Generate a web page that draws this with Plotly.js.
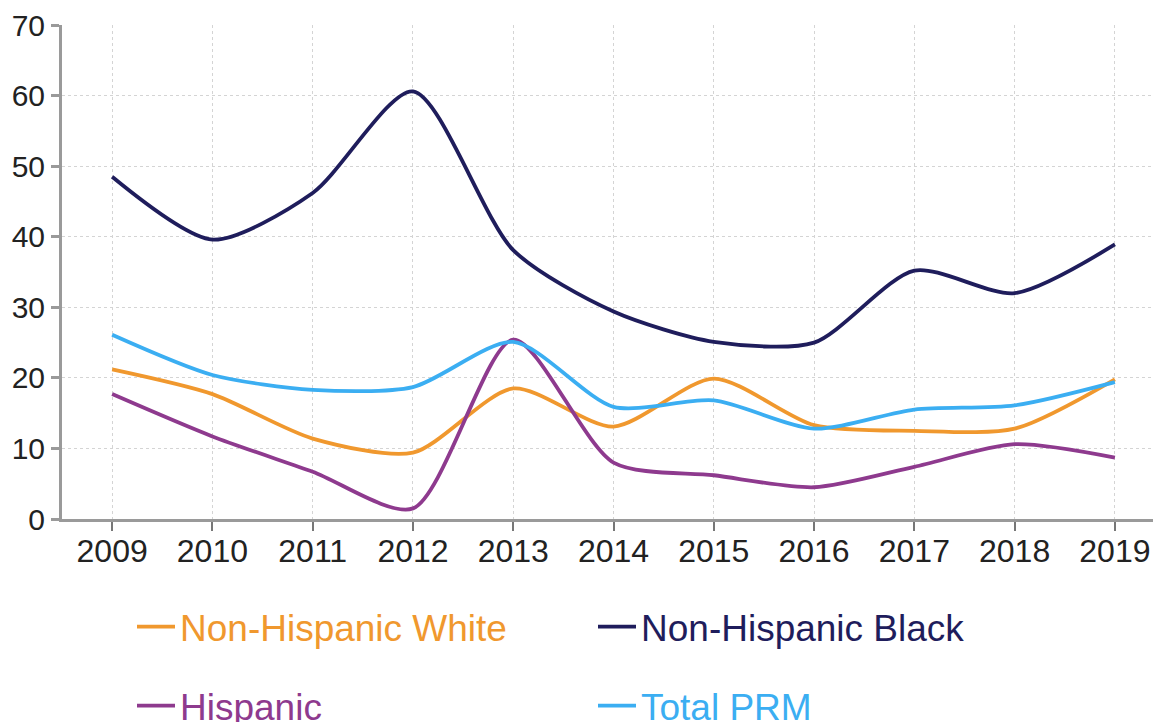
<!DOCTYPE html>
<html>
<head>
<meta charset="utf-8">
<script src="https://cdn.plot.ly/plotly-3.0.1.min.js"></script>
<style>html,body{margin:0;padding:0;background:#fff;}#chart{width:1153px;height:722px;}</style>
</head>
<body>
<div id="chart"></div>
<script>
const years = [2009, 2010, 2011, 2012, 2013, 2014, 2015, 2016, 2017, 2018, 2019];
const nhWhite = [21.2, 17.7, 11.4, 9.4, 18.5, 13.1, 19.9, 13.3, 12.5, 12.8, 19.8];
const nhBlack = [48.5, 39.6, 46.2, 60.6, 38.1, 29.4, 25.1, 25.0, 35.2, 32.0, 38.9];
const hispanic = [17.7, 11.7, 6.7, 1.5, 25.4, 8.0, 6.2, 4.5, 7.4, 10.6, 8.7];
const totalPRM = [26.1, 20.4, 18.3, 18.7, 25.1, 15.9, 16.8, 12.8, 15.5, 16.1, 19.4];
const yTicks = [0, 10, 20, 30, 40, 50, 60, 70];

const colors = {white: '#F0982E', black: '#1F1D5C', hisp: '#8E3A8E', total: '#3BAEF2'};

function tr(y, name, color, legend, w) {
  return {
    x: years, y: y, type: 'scatter', mode: 'lines',
    name: '<span style="color:' + color + '">' + name + '</span>',
    line: {color: color, width: w, shape: 'spline', smoothing: 0.75},
    legend: legend, hoverinfo: 'x+y'
  };
}

const data = [
  tr(nhWhite, 'Non-Hispanic White', colors.white, 'legend', 3.8),
  tr(nhBlack, 'Non-Hispanic Black', colors.black, 'legend2', 3.8),
  tr(hispanic, 'Hispanic', colors.hisp, 'legend3', 3.8),
  tr(totalPRM, 'Total PRM', colors.total, 'legend4', 3.8)
];

const W = 1153, H = 722;
const legFont = {family: 'Liberation Sans, Arial, sans-serif', size: 37};
function leg(px, py) {
  return {x: px / W, y: (H - py) / H, xref: 'container', yref: 'container',
          xanchor: 'left', yanchor: 'middle', orientation: 'h', itemwidth: 38,
          font: legFont, bgcolor: 'rgba(0,0,0,0)', borderwidth: 0};
}

const layout = {
  width: W, height: H,
  margin: {l: 62, r: 0, t: 25, b: 203},
  paper_bgcolor: '#fff', plot_bgcolor: '#fff',
  font: {family: 'Liberation Sans, Arial, sans-serif', color: '#222'},
  showlegend: true,
  xaxis: {
    range: [2008.5, 2019.38], tickvals: years, ticktext: years.map(String),
    showgrid: true, gridcolor: '#d4d4d4', griddash: 'dot', gridwidth: 1,
    showline: true, linecolor: '#9a9a9a', linewidth: 3,
    ticks: 'outside', ticklen: 9, tickwidth: 2, tickcolor: '#777',
    ticklabelstandoff: -7,
    tickfont: {size: 32, color: '#222'}, zeroline: false, fixedrange: true
  },
  yaxis: {
    range: [0, 70], tickvals: yTicks, ticktext: yTicks.map(String),
    showgrid: true, gridcolor: '#d4d4d4', griddash: 'dot', gridwidth: 1,
    showline: true, linecolor: '#9a9a9a', linewidth: 3,
    ticks: 'outside', ticklen: 8, tickwidth: 3, tickcolor: '#9a9a9a',
    tickfont: {size: 30, color: '#222'}, zeroline: false, fixedrange: true
  },
  legend: leg(132, 627),
  legend2: leg(593, 627),
  legend3: leg(132, 706),
  legend4: leg(593, 706)
};

Plotly.newPlot('chart', data, layout, {displayModeBar: false, staticPlot: true});
</script>
</body>
</html>
